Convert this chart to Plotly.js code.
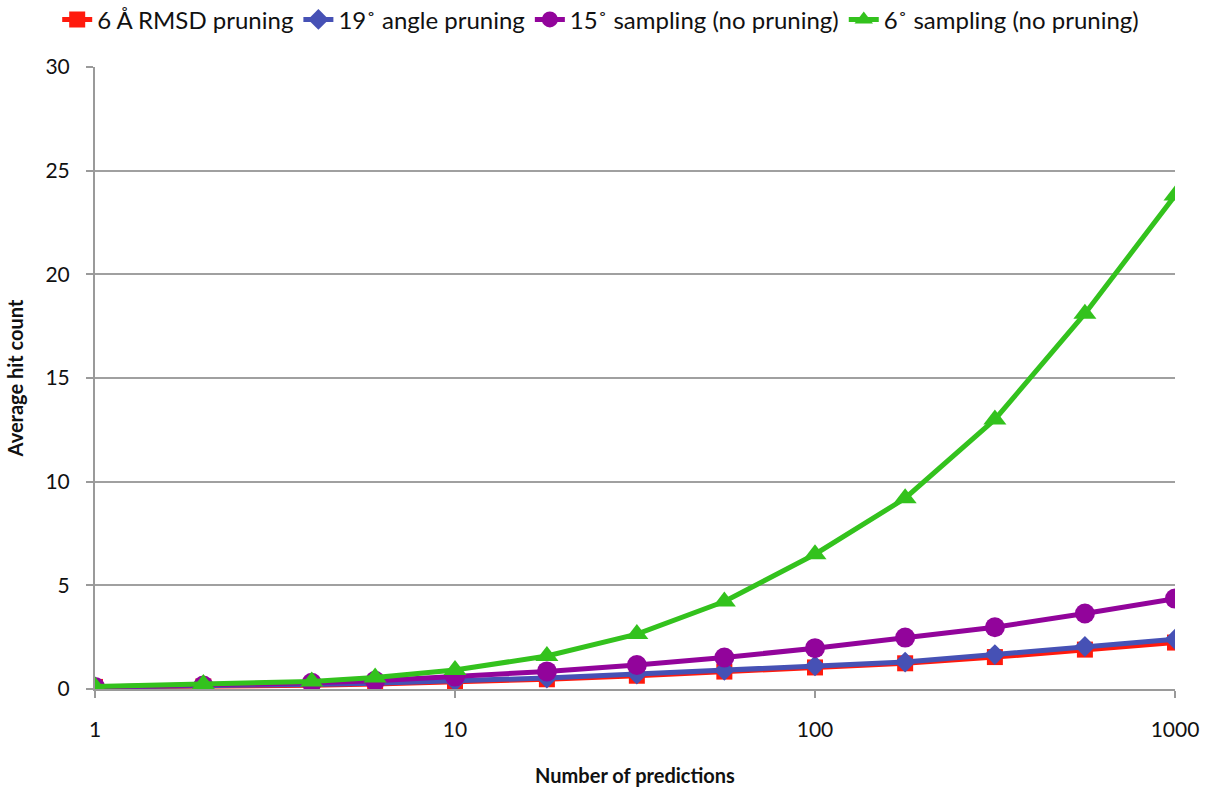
<!DOCTYPE html>
<html>
<head>
<meta charset="utf-8">
<script src="https://cdn.plot.ly/plotly-3.0.1.min.js"></script>
<style>
  html, body { margin: 0; padding: 0; background: #fff; }
  #chart { width: 1205px; height: 787px; }
</style>
</head>
<body>
<div id="chart"></div>
<script>
// Number of predictions (log-spaced)
const predictions = [1, 2, 4, 6, 10, 18, 32, 56, 100, 178, 316, 562, 1000];

// Average hit counts per strategy
const rmsdPruning    = [0.10, 0.12, 0.18, 0.24, 0.33, 0.47, 0.64, 0.84, 1.04, 1.24, 1.54, 1.90, 2.24];
const anglePruning   = [0.10, 0.14, 0.22, 0.28, 0.38, 0.53, 0.72, 0.90, 1.12, 1.30, 1.66, 2.05, 2.40];
const sampling15     = [0.10, 0.17, 0.30, 0.40, 0.60, 0.85, 1.16, 1.52, 1.97, 2.48, 2.98, 3.64, 4.36];
const sampling6      = [0.12, 0.24, 0.36, 0.56, 0.92, 1.59, 2.65, 4.22, 6.50, 9.20, 13.0, 18.1, 23.8];

const seriesNames = [
  '6 Å RMSD pruning',
  '19˚ angle pruning',
  '15˚ sampling (no pruning)',
  '6˚ sampling (no pruning)'
];
const xTickVals = [1, 10, 100, 1000];
const xTickText = ['1', '10', '100', '1000'];
const yTickVals = [0, 5, 10, 15, 20, 25, 30];

function series(name, y, color, symbol, size) {
  return {
    type: 'scatter',
    mode: 'lines+markers',
    name: name,
    x: predictions,
    y: y,
    line: { color: color, width: 5 },
    marker: { color: color, symbol: symbol, size: size }
  };
}

const data = [
  series(seriesNames[0], rmsdPruning, '#ff1a0d', 'square', 16),
  series(seriesNames[1], anglePruning, '#4651b5', 'diamond', 16),
  series(seriesNames[2], sampling15, '#92049b', 'circle', 20),
  series(seriesNames[3], sampling6, '#33c21d', 'triangle-up', 20)
];

const axisFont = { family: 'Lato, sans-serif', size: 21, color: '#111' };
const titleFont = { family: 'Lato, sans-serif', size: 20, color: '#111', weight: 'bold' };

const layout = {
  width: 1205,
  height: 787,
  margin: { l: 95, r: 30, t: 67, b: 98, autoexpand: false },
  paper_bgcolor: '#ffffff',
  plot_bgcolor: '#ffffff',
  font: { family: 'Lato, sans-serif', color: '#111', size: 21 },
  showlegend: true,
  legend: {
    orientation: 'h',
    x: -0.035, xanchor: 'left',
    y: 1.112, yanchor: 'top',
    font: { family: 'Lato, sans-serif', size: 24, color: '#111' },
    itemwidth: 30,
    tracegroupgap: 0
  },
  xaxis: {
    type: 'log',
    range: [0, 3],
    tickvals: xTickVals,
    ticktext: xTickText,
    showgrid: false,
    zeroline: false,
    showline: true,
    linecolor: '#9a9a9a',
    linewidth: 2,
    ticks: 'outside',
    ticklen: 7,
    tickwidth: 2,
    tickcolor: '#9a9a9a',
    ticklabelstandoff: 14,
    tickfont: axisFont,
    title: { text: 'Number of predictions', font: titleFont, standoff: 30 }
  },
  yaxis: {
    range: [0, 30],
    tickvals: yTickVals,
    showgrid: true,
    gridcolor: '#a0a0a0',
    gridwidth: 2,
    zeroline: false,
    showline: true,
    linecolor: '#9a9a9a',
    linewidth: 2,
    ticks: 'outside',
    ticklen: 7,
    tickwidth: 2,
    tickcolor: '#9a9a9a',
    ticklabelstandoff: 12,
    tickfont: axisFont,
    title: { text: 'Average hit count', font: titleFont, standoff: 16 }
  }
};

Plotly.newPlot('chart', data, layout, { displayModeBar: false, staticPlot: true });
</script>
</body>
</html>
